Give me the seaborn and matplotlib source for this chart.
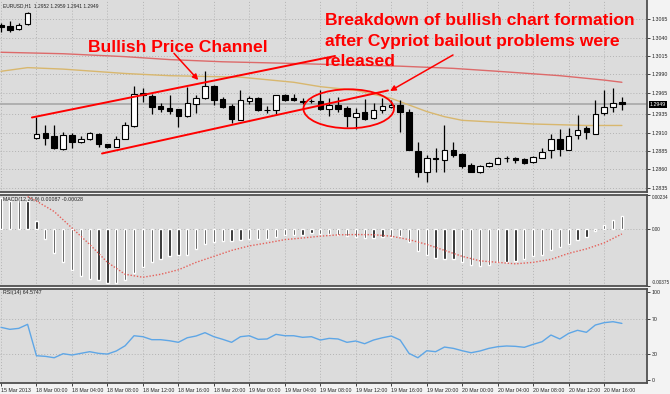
import numpy as np
import pandas as pd
import seaborn as sns
import matplotlib.pyplot as plt
from matplotlib.patches import Ellipse
import matplotlib.transforms as mtransforms

# EURUSD H1 bars, 15 Mar 2013 20:00 -> 20 Mar 2013 18:00
opens = [1.3057, 1.3056, 1.3052, 1.3058, 1.2903, 1.2910, 1.2905, 1.2888, 1.2907, 1.2897,
         1.2901, 1.2908, 1.2894, 1.2891, 1.2901, 1.2919, 1.2965, 1.2960, 1.2946, 1.2944,
         1.2942, 1.2933, 1.2949, 1.2957, 1.2974, 1.2956, 1.2946, 1.2928, 1.2954, 1.2958,
         1.2941, 1.2941, 1.2961, 1.2957, 1.2954, 1.2953, 1.2953, 1.2942, 1.2948, 1.2944,
         1.2932, 1.2939, 1.2930, 1.2941, 1.2945, 1.2948, 1.2939, 1.2885, 1.2856, 1.2876,
         1.2873, 1.2886, 1.2881, 1.2866, 1.2856, 1.2864, 1.2868, 1.2875, 1.2875, 1.2874,
         1.2870, 1.2876, 1.2886, 1.2901, 1.2887, 1.2907, 1.2916, 1.2908, 1.2937, 1.2945,
         1.2952]
highs = [1.3060, 1.3063, 1.3060, 1.3075, 1.2932, 1.2921, 1.2920, 1.2911, 1.2910, 1.2905,
         1.2911, 1.2910, 1.2895, 1.2906, 1.2925, 1.2974, 1.2971, 1.2963, 1.2951, 1.2962,
         1.2943, 1.2972, 1.2962, 1.2995, 1.2975, 1.2959, 1.2950, 1.2968, 1.2960, 1.2959,
         1.2946, 1.2962, 1.2963, 1.2963, 1.2957, 1.2956, 1.2969, 1.2958, 1.2959, 1.2946,
         1.2944, 1.2956, 1.2951, 1.2958, 1.2955, 1.2955, 1.2943, 1.2898, 1.2880, 1.2889,
         1.2921, 1.2898, 1.2882, 1.2869, 1.2866, 1.2870, 1.2877, 1.2878, 1.2877, 1.2875,
         1.2878, 1.2889, 1.2908, 1.2915, 1.2916, 1.2934, 1.2919, 1.2955, 1.2969, 1.2971,
         1.2959]
lows = [1.3048, 1.3048, 1.3050, 1.3057, 1.2902, 1.2893, 1.2888, 1.2887, 1.2889, 1.2896,
        1.2900, 1.2891, 1.2889, 1.2890, 1.2901, 1.2918, 1.2952, 1.2935, 1.2938, 1.2936,
        1.2918, 1.2932, 1.2937, 1.2956, 1.2948, 1.2944, 1.2923, 1.2927, 1.2950, 1.2940,
        1.2937, 1.2936, 1.2954, 1.2954, 1.2949, 1.2951, 1.2941, 1.2933, 1.2939, 1.2918,
        1.2915, 1.2927, 1.2929, 1.2937, 1.2944, 1.2911, 1.2886, 1.2850, 1.2843, 1.2856,
        1.2856, 1.2877, 1.2862, 1.2856, 1.2855, 1.2863, 1.2867, 1.2870, 1.2869, 1.2867,
        1.2869, 1.2875, 1.2876, 1.2878, 1.2886, 1.2901, 1.2902, 1.2908, 1.2934, 1.2939,
        1.2941]
closes = [1.3055, 1.3050, 1.3057, 1.3073, 1.2908, 1.2903, 1.2889, 1.2907, 1.2897, 1.2901,
          1.2910, 1.2894, 1.2891, 1.2901, 1.2920, 1.2963, 1.2961, 1.2945, 1.2943, 1.2940,
          1.2933, 1.2951, 1.2957, 1.2974, 1.2955, 1.2945, 1.2929, 1.2955, 1.2957, 1.2941,
          1.2941, 1.2961, 1.2955, 1.2955, 1.2952, 1.2953, 1.2943, 1.2948, 1.2943, 1.2933,
          1.2937, 1.2929, 1.2941, 1.2946, 1.2948, 1.2939, 1.2887, 1.2857, 1.2876, 1.2874,
          1.2887, 1.2879, 1.2865, 1.2857, 1.2864, 1.2869, 1.2875, 1.2875, 1.2873, 1.2869,
          1.2877, 1.2884, 1.2901, 1.2888, 1.2905, 1.2914, 1.2911, 1.2935, 1.2945, 1.2951,
          1.2949]
bid = 1.2949

# moving averages (read at a few bars)
ma_red_idx = [0, 7, 14, 19, 25, 32, 38, 45, 51, 56, 63, 68, 70]
ma_red_val = [1.3020, 1.3018, 1.3014, 1.3010, 1.3007, 1.3005, 1.3003, 1.3001, 1.2998,
              1.2994, 1.2988, 1.2982, 1.2979]
ma_tan_idx = [0, 3, 7, 14, 19, 27, 33, 36, 40, 44, 46, 48, 50, 52, 55, 60, 66, 70]
ma_tan_val = [1.2994, 1.2999, 1.2997, 1.2991, 1.2988, 1.2986, 1.2979, 1.2973, 1.2968,
              1.2957, 1.2948, 1.2939, 1.2932, 1.2927, 1.2925, 1.2922, 1.2920, 1.2920]

# MACD(12,26,9)
macd_main = [0.0021, 0.0019, 0.0019, 0.0019, 0.00054, -0.00063, -0.0016, -0.0022, -0.0027, -0.0031,
             -0.0033, -0.0034, -0.0036, -0.0036, -0.0034, -0.0029, -0.0025, -0.0022, -0.0020, -0.0018,
             -0.0017, -0.0017, -0.0013, -0.00096, -0.00084, -0.0008, -0.00075, -0.00073, -0.00063, -0.00063,
             -0.00063, -0.00051, -0.0004, -0.00035, -0.00035, -0.00025, -0.00031, -0.00033, -0.0004, -0.00044,
             -0.00051, -0.00058, -0.00058, -0.00051, -0.00051, -0.00044, -0.00084, -0.00145, -0.00173, -0.0019,
             -0.00196, -0.002, -0.0022, -0.0024, -0.00245, -0.0024, -0.0022, -0.0022, -0.0021, -0.002,
             -0.0018, -0.0017, -0.0014, -0.0012, -0.001, -0.00069, -0.00051, -0.00007, 0.00027, 0.00064,
             0.00087]
sig_idx = [3, 4, 6, 8, 10, 12, 14, 16, 18, 20, 22, 24, 26, 28, 30, 32, 34, 36, 38, 40, 42, 44,
           46, 48, 50, 52, 54, 56, 58, 60, 62, 64, 66, 68, 70]
sig_val = [0.0022, 0.0019, 0.0012, 0.0001, -0.0010, -0.0022, -0.0030, -0.0032, -0.0030, -0.0027,
           -0.0022, -0.0018, -0.0014, -0.0011, -0.0009, -0.00068, -0.00057, -0.00045, -0.00036,
           -0.00034, -0.00035, -0.00045, -0.00068, -0.0010, -0.0014, -0.0018, -0.0021, -0.0022,
           -0.0023, -0.0022, -0.0020, -0.0016, -0.0013, -0.0009, -0.0003]

# RSI(14)
rsi = [60.1, 57.8, 58.9, 63.5, 27.7, 27.0, 25.4, 30.0, 28.5, 30.4,
       32.3, 30.4, 29.6, 33.1, 39.1, 50.5, 49.4, 46.0, 46.0, 44.8,
       43.0, 48.2, 50.2, 54.0, 49.4, 46.4, 43.0, 49.4, 50.5, 46.4,
       46.8, 52.1, 50.5, 50.5, 48.7, 49.4, 45.6, 47.5, 46.8, 43.0,
       44.5, 41.4, 45.6, 48.2, 50.2, 45.6, 30.4, 25.4, 33.4, 32.3,
       37.6, 36.1, 33.4, 31.1, 33.1, 36.1, 38.0, 38.8, 38.4, 37.3,
       40.7, 43.7, 51.3, 46.8, 53.2, 56.7, 54.4, 62.7, 65.4, 66.5,
       64.57]

price_ticks = [1.3065, 1.3040, 1.3015, 1.2990, 1.2965, 1.2935, 1.2910, 1.2885, 1.2860, 1.2835]
time_ticks = [0] + list(range(4, 69, 4))
time_labels = ['15 Mar 2013', '18 Mar 00:00', '18 Mar 04:00', '18 Mar 08:00', '18 Mar 12:00',
               '18 Mar 16:00', '18 Mar 20:00', '19 Mar 00:00', '19 Mar 04:00', '19 Mar 08:00',
               '19 Mar 12:00', '19 Mar 16:00', '19 Mar 20:00', '20 Mar 00:00', '20 Mar 04:00',
               '20 Mar 08:00', '20 Mar 12:00', '20 Mar 16:00']

sns.set_style('white', rc={'axes.facecolor': '#dcdcdc', 'figure.facecolor': '#f3f3f3'})
plt.rcParams['font.family'] = ['Liberation Sans', 'DejaVu Sans']

W, H = 670, 394
fig = plt.figure(figsize=(W / 100, H / 100), dpi=100)

def rect(x0, y0, x1, y1):
    return [x0 / W, 1 - y1 / H, (x1 - x0) / W, (y1 - y0) / H]

ax1 = fig.add_axes(rect(0, 0, 647, 192))
ax2 = fig.add_axes(rect(0, 194.5, 647, 285.5))
ax3 = fig.add_axes(rect(0, 289, 647, 383))

SMALL = 3.8
GRID = dict(color='#b3b3b3', linestyle=(0, (1, 2)), linewidth=0.7)
XLIM = (-0.11, 72.83)

for ax in (ax1, ax2, ax3):
    for side in ('left', 'top', 'bottom', 'right'):
        ax.spines[side].set_visible(True)
        ax.spines[side].set_color('#505050')
        ax.spines[side].set_linewidth(1.3)
    ax.spines['left'].set_visible(False)
    ax.yaxis.tick_right()
    ax.tick_params(axis='y', direction='out', length=2, width=0.6, labelsize=SMALL,
                   pad=1.2, colors='#222222', right=True, left=False)
    ax.set_xticks(time_ticks)
    ax.xaxis.grid(True, **GRID)
    ax.set_xlim(*XLIM)
ax1.spines['top'].set_visible(False)
for ax in (ax1, ax2):
    ax.tick_params(axis='x', length=0, labelbottom=False)

# ---- price panel
bars = pd.DataFrame({'o': opens, 'h': highs, 'l': lows, 'c': closes})
bars['i'] = np.arange(len(bars))
up = bars['c'] >= bars['o']
body_lo = bars[['o', 'c']].min(axis=1)
body_h = (bars['c'] - bars['o']).abs().clip(lower=0.00003)

ax1.axhline(bid, color='#a8a8a8', lw=1.2, zorder=1)
sns.lineplot(x=ma_red_idx, y=ma_red_val, ax=ax1, color='#dd6a6a', lw=1.0, zorder=2)
sns.lineplot(x=ma_tan_idx, y=ma_tan_val, ax=ax1, color='#d8b76e', lw=1.0, zorder=2)
ax1.vlines(bars['i'], bars['l'], bars['h'], color='black', lw=0.9, zorder=3)
ax1.bar(bars['i'][up], body_h[up], bottom=body_lo[up], width=0.62, color='white',
        edgecolor='black', lw=0.8, zorder=4)
ax1.bar(bars['i'][~up], body_h[~up], bottom=body_lo[~up], width=0.62, color='black',
        edgecolor='black', lw=0.8, zorder=4)
ax1.set_yticks(price_ticks)
ax1.set_yticklabels([f'{p:.4f}' for p in price_ticks])
ax1.yaxis.grid(True, **GRID)
ax1.set_ylim(1.28291, 1.30914)
ax1.set_xlim(*XLIM)
ax1.set_xlabel('')
ax1.set_ylabel('')
trans = mtransforms.blended_transform_factory(ax1.transAxes, ax1.transData)
ax1.text(1.004, bid, f'{bid:.4f}', transform=trans, color='white', fontsize=SMALL,
         va='center', ha='left', clip_on=False,
         bbox=dict(facecolor='black', edgecolor='none', pad=0.7))
ax1.text(0.005, 1.3084, 'EURUSD,H1  1.2952 1.2959 1.2941 1.2949', fontsize=3.5,
         color='#222222', va='center', transform=trans)

# analyst drawings
RED = '#ff0000'
ax1.plot([3.49, 37.66], [1.29309, 1.30149], color=RED, lw=1.4, zorder=5)
ax1.plot([11.39, 43.63], [1.28817, 1.29678], color=RED, lw=1.4, zorder=5)
ax1.add_patch(Ellipse((39.2, 1.29428), width=10.2, height=0.00533, fill=False,
                      edgecolor=RED, lw=1.3, zorder=5))
arrow = dict(arrowstyle='-|>', color=RED, lw=1.1, mutation_scale=8, shrinkA=0, shrinkB=0)
ax1.annotate('', xy=(22.24, 1.29821), xytext=(19.5, 1.30186), arrowprops=arrow, zorder=6)
ax1.annotate('', xy=(43.86, 1.29671), xytext=(50.96, 1.30163), arrowprops=arrow, zorder=6)
big = dict(color=RED, fontsize=12.6, fontweight='bold', va='baseline', ha='left', zorder=6)
ax1.text(9.81, 1.30208, 'Bullish Price Channel', **big)
ax1.text(36.53, 1.30572, 'Breakdown of bullish chart formation', **big)
ax1.text(36.53, 1.30290, 'after Cypriot bailout problems were', **big)
ax1.text(36.53, 1.30017, 'released', **big)

# ---- MACD panel
idx = np.arange(len(macd_main))
ax2.axhline(0, **GRID)
ax2.bar(idx, macd_main, width=0.26, color='#111111', zorder=3)
sns.lineplot(x=sig_idx, y=sig_val, ax=ax2, color='#e5605a', lw=1.0,
             linestyle=(0, (1, 1.3)), zorder=4)
ax2.set_ylim(-0.00375, 0.00234)
ax2.set_yticks([0.00234, 0.0, -0.00375])
ax2.set_yticklabels(['0.00234', '0.00', '-0.00375'])
labs = ax2.get_yticklabels()
labs[0].set_va('top')
labs[2].set_va('bottom')
for lab in labs:
    lab.set_fontsize(3.3)
ax2.set_xlim(*XLIM)
ax2.set_xlabel('')
ax2.set_ylabel('')
ax2.text(0.005, 0.95, 'MACD(12,26,9) 0.00087 -0.00028', fontsize=SMALL, color='#222222',
         va='center', transform=ax2.transAxes)

# ---- RSI panel
ax3.axhline(70, **GRID)
ax3.axhline(30, **GRID)
sns.lineplot(x=np.arange(len(rsi)), y=rsi, ax=ax3, color='#5ea6e6', lw=1.0, zorder=3)
ax3.set_ylim(-3.4, 103.8)
ax3.set_yticks([100, 70, 30, 0])
ax3.set_xticks(time_ticks, time_labels, ha='left')
ax3.tick_params(axis='x', direction='out', length=2.5, width=0.6, labelsize=SMALL,
                pad=1.0, colors='#222222', bottom=True)
ax3.set_xlim(*XLIM)
ax3.set_xlabel('')
ax3.set_ylabel('')
ax3.text(0.005, 0.96, 'RSI(14) 64.5747', fontsize=SMALL, color='#222222', va='center',
         transform=ax3.transAxes)

fig.savefig('out.png', dpi=100)
